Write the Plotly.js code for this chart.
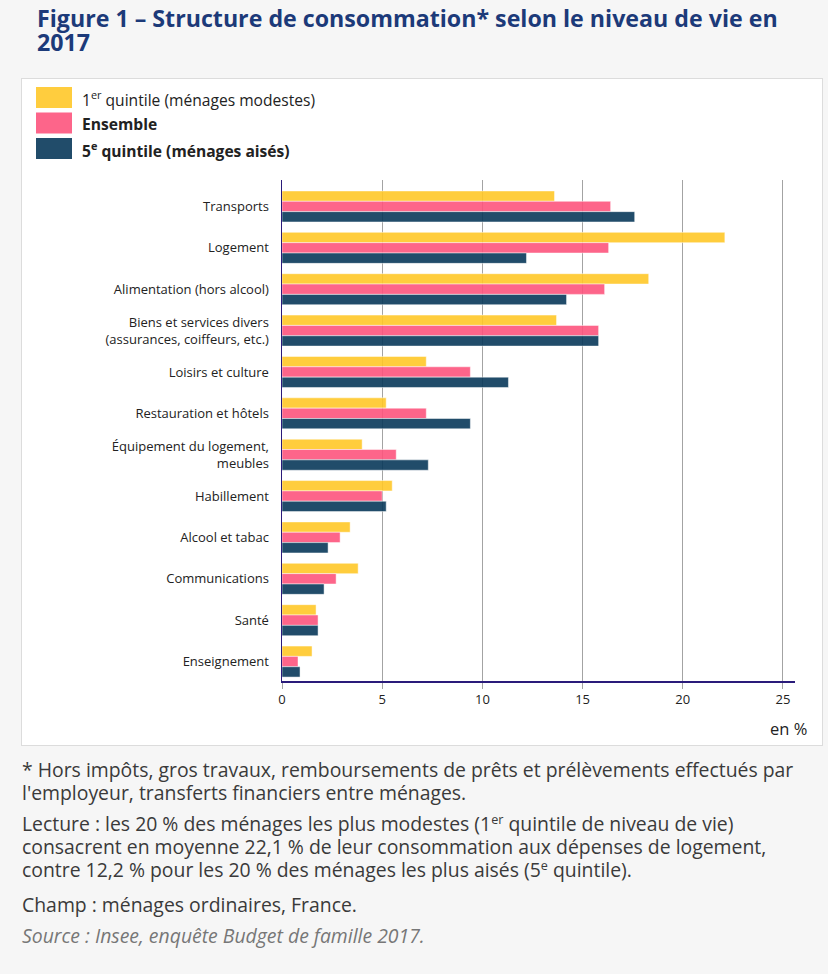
<!DOCTYPE html>
<html><head><meta charset="utf-8">
<script src="https://cdn.plot.ly/plotly-3.0.1.min.js"></script>
<style>
body{margin:0;background:#f6f6f6;font-family:"Open Sans",sans-serif;width:828px;height:974px;overflow:hidden;position:relative}
#title{position:absolute;left:37px;top:6px;font-size:23.2px;font-weight:700;color:#1c3a79;line-height:24px;white-space:nowrap}
#chart{position:absolute;left:21px;top:78px;width:800px;height:666px;border:1px solid #dcdcdc;background:#fff}
#notes{position:absolute;left:22px;top:758px;font-size:19.4px;color:#3a3a3a;line-height:23px;white-space:nowrap}
#notes p{margin:0 0 8px 0}
#notes p.lect{margin-bottom:12px}
#notes .src{font-style:italic;color:#777}
sup{font-size:65%;vertical-align:super;line-height:0}
</style></head><body>
<div id="title">Figure 1 – Structure de consommation* selon le niveau de vie en<br>2017</div>
<div id="chart"></div>
<div id="notes">
<p>* Hors impôts, gros travaux, remboursements de prêts et prélèvements effectués par<br>l'employeur, transferts financiers entre ménages.</p>
<p class="lect">Lecture : les 20 % des ménages les plus modestes (1<sup>er</sup> quintile de niveau de vie)<br>consacrent en moyenne 22,1 % de leur consommation aux dépenses de logement,<br>contre 12,2 % pour les 20 % des ménages les plus aisés (5<sup>e</sup> quintile).</p>
<p>Champ : ménages ordinaires, France.</p>
<p class="src">Source : Insee, enquête Budget de famille 2017.</p>
</div>
<script>
const categories = [
  "Transports",
  "Logement",
  "Alimentation (hors alcool)",
  "Biens et services divers<br>(assurances, coiffeurs, etc.)",
  "Loisirs et culture",
  "Restauration et hôtels",
  "Équipement du logement,<br>meubles",
  "Habillement",
  "Alcool et tabac",
  "Communications",
  "Santé",
  "Enseignement"
];
const quintile1 = [13.6, 22.1, 18.3, 13.7, 7.2, 5.2, 4.0, 5.5, 3.4, 3.8, 1.7, 1.5];
const ensemble  = [16.4, 16.3, 16.1, 15.8, 9.4, 7.2, 5.7, 5.0, 2.9, 2.7, 1.8, 0.8];
const quintile5 = [17.6, 12.2, 14.2, 15.8, 11.3, 9.4, 7.3, 5.2, 2.3, 2.1, 1.8, 0.9];
const seriesNames = [
  "1<sup>er</sup> quintile (ménages modestes)",
  "<b>Ensemble</b>",
  "<b>5<sup>e</sup> quintile (ménages aisés)</b>"
];
const xTicks = [0, 5, 10, 15, 20, 25];
const xUnit = "en %";

const colors = ["rgba(255,200,40,0.9)", "rgba(253,84,125,0.9)", "rgba(9,56,90,0.9)"];
const swatch = ["rgb(255,205,62)", "rgb(253,101,138)", "rgb(33,76,106)"];
const seriesValues = [quintile1, ensemble, quintile5];

const traces = seriesValues.map((vals, i) => ({
  type: "bar",
  orientation: "h",
  x: vals,
  y: categories,
  name: seriesNames[i],
  marker: {color: colors[i], line: {color: "rgba(255,255,255,0.6)", width: 0.8}},
  hoverinfo: "x+name"
}));

// pixel helpers (page coords -> paper coords) for legend decoration
const DIV_L = 22, DIV_T = 79, ML = 260, MT = 101, PW = 513, PH = 501.5;
const px = x => (x - DIV_L - ML) / PW;
const py = y => (DIV_T + MT + PH - y) / PH;

const legendRows = [[87, 108], [112.5, 133.5], [138, 159]];
const shapes = legendRows.map((r, i) => ({
  type: "rect", xref: "paper", yref: "paper",
  x0: px(36), x1: px(72), y0: py(r[1]), y1: py(r[0]),
  fillcolor: swatch[i], line: {width: 0}
}));
const annotations = legendRows.map((r, i) => ({
  xref: "paper", yref: "paper", x: px(80), y: py((r[0] + r[1]) / 2 + 1),
  xanchor: "left", yanchor: "middle", showarrow: false,
  text: seriesNames[i], font: {family: "Open Sans", size: 15.6, color: "#222"}
}));
annotations.push({
  xref: "paper", yref: "paper", x: px(809), y: py(729),
  xanchor: "right", yanchor: "middle", showarrow: false,
  text: xUnit, font: {family: "Open Sans", size: 16.5, color: "#222"}
});

const layout = {
  width: 800, height: 666,
  margin: {l: ML, r: 27, t: MT, b: 64, pad: 0},
  paper_bgcolor: "#fff", plot_bgcolor: "#fff",
  barmode: "group", bargap: 0.25, bargroupgap: 0,
  showlegend: false,
  font: {family: "Open Sans", size: 13, color: "#222"},
  xaxis: {
    range: [0, 25.6], tickvals: xTicks, ticktext: xTicks.map(String),
    showgrid: true, gridcolor: "#a3a3a3", gridwidth: 1,
    ticks: "outside", ticklen: 6, tickcolor: "#a3a3a3", tickwidth: 1,
    showline: true, linecolor: "#2a1b7a", linewidth: 1.5,
    zeroline: false, fixedrange: true,
    tickfont: {family: "Open Sans", size: 13, color: "#222"}
  },
  yaxis: {
    type: "category", categoryorder: "array", categoryarray: categories,
    range: [11.47, -0.64],
    showgrid: false, zeroline: false,
    showline: true, linecolor: "#2a1b7a", linewidth: 1.5,
    ticks: "", ticklabelstandoff: 9, fixedrange: true,
    tickfont: {family: "Open Sans", size: 13, color: "#222"}
  },
  shapes: shapes,
  annotations: annotations
};

Plotly.newPlot("chart", traces, layout, {displayModeBar: false, staticPlot: true});
</script>
</body></html>
